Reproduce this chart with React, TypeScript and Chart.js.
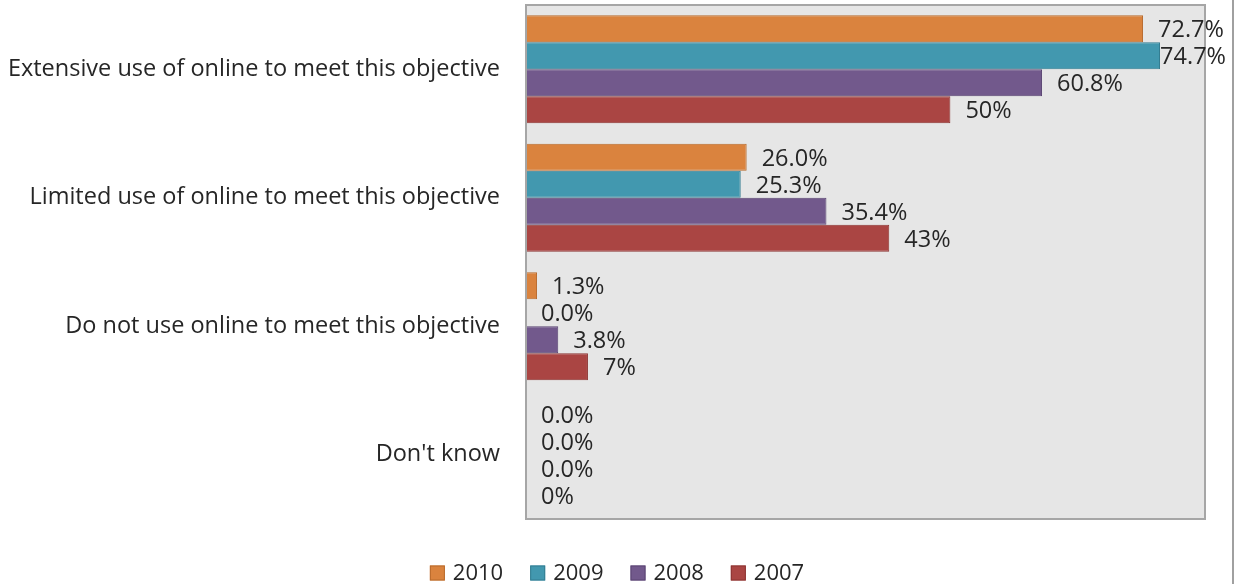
import React, { useEffect, useRef } from "react";
import { Chart, registerables } from "chart.js";

Chart.register(...registerables);

const categories = [
  "Extensive use of online to meet this objective",
  "Limited use of online to meet this objective",
  "Do not use online to meet this objective",
  "Don't know",
];
const seriesNames = ["2010", "2009", "2008", "2007"];
const values2010 = [72.7, 26.0, 1.3, 0.0];
const values2009 = [74.7, 25.3, 0.0, 0.0];
const values2008 = [60.8, 35.4, 3.8, 0.0];
const values2007 = [50, 42.8, 7.3, 0];
const labels2010 = ["72.7%", "26.0%", "1.3%", "0.0%"];
const labels2009 = ["74.7%", "25.3%", "0.0%", "0.0%"];
const labels2008 = ["60.8%", "35.4%", "3.8%", "0.0%"];
const labels2007 = ["50%", "43%", "7%", "0%"];
const fills = ["#da833e", "#4298af", "#72598c", "#aa4543"];
const borders = ["#b86a2c", "#337d91", "#5a4472", "#8c3432"];

const FONT = "'Open Sans', sans-serif";
const FS = 23.5;
const LEGEND_FS = 22;

const decorPlugin = {
  id: "decor",
  beforeDatasetsDraw(chart: any) {
    const { ctx, chartArea: a } = chart;
    ctx.save();
    ctx.fillStyle = "#e6e6e6";
    ctx.fillRect(a.left, a.top, a.right - a.left, a.bottom - a.top);
    ctx.restore();
  },
  afterDatasetsDraw(chart: any) {
    const { ctx, chartArea: a, width, height } = chart;
    ctx.save();
    ctx.strokeStyle = "#a6a6a6";
    ctx.lineWidth = 2;
    ctx.strokeRect(a.left, a.top, a.right - a.left, a.bottom - a.top);
    // outer right border line
    ctx.strokeStyle = "#a0a0a0";
    ctx.lineWidth = 2;
    ctx.beginPath();
    ctx.moveTo(width - 1, 0);
    ctx.lineTo(width - 1, height);
    ctx.stroke();

    // data labels
    ctx.font = `${FS}px ${FONT}`;
    ctx.fillStyle = "#262626";
    ctx.textBaseline = "middle";
    ctx.textAlign = "left";
    chart.data.datasets.forEach((ds: any, di: number) => {
      const meta = chart.getDatasetMeta(di);
      meta.data.forEach((bar: any, i: number) => {
        const txt = ds.valueLabels[i];
        const w = ctx.measureText(txt).width;
        let x = bar.x + 15;
        if (x + w > width - 8) x = width - 8 - w;
        ctx.fillText(txt, x, bar.y + 2);
      });
    });

    // legend
    ctx.font = `${LEGEND_FS}px ${FONT}`;
    const items = chart.data.datasets.map((ds: any) => ({
      text: ds.label,
      w: ctx.measureText(ds.label).width,
      fill: ds.backgroundColor,
      border: ds.borderColor,
    }));
    const box = 15, gapBT = 8, gapItems = 27;
    const total = items.reduce((s: number, it: any) => s + box + gapBT + it.w, 0) + gapItems * (items.length - 1);
    let x = (width - total) / 2;
    const cy = 573;
    items.forEach((it: any) => {
      ctx.fillStyle = it.fill;
      ctx.fillRect(x, cy - box / 2, box, box);
      ctx.strokeStyle = it.border;
      ctx.lineWidth = 1;
      ctx.strokeRect(x + 0.5, cy - box / 2 + 0.5, box - 1, box - 1);
      ctx.fillStyle = "#262626";
      ctx.fillText(it.text, x + box + gapBT, cy + 1);
      x += box + gapBT + it.w + gapItems;
    });
    ctx.restore();
  },
};

export default function App() {
  const ref = useRef<HTMLCanvasElement>(null);
  useEffect(() => {
    document.body.style.margin = "0";
    const all = [values2010, values2009, values2008, values2007];
    const lbls = [labels2010, labels2009, labels2008, labels2007];
    const chart = new Chart(ref.current!, {
      type: "bar",
      data: {
        labels: categories,
        datasets: seriesNames.map((n, i) => ({
          label: n,
          data: all[i],
          valueLabels: lbls[i],
          backgroundColor: fills[i],
          borderColor: borders[i],
          borderWidth: 1,
          barPercentage: 1,
          categoryPercentage: 0.84,
        })) as any,
      },
      options: {
        indexAxis: "y",
        animation: false,
        responsive: false,
        layout: { padding: { top: 5, right: 29, bottom: 65, left: 0 } },
        plugins: { legend: { display: false }, tooltip: { enabled: false } },
        scales: {
          x: { min: 0, max: 80, display: false },
          y: {
            grid: { display: false, drawTicks: false },
            border: { display: false },
            ticks: { font: { family: FONT, size: FS }, color: "#262626", padding: 26 },
            afterFit(scale: any) {
              scale.width = 526;
              scale.paddingTop = 0;
              scale.paddingBottom = 0;
            },
          },
        },
      },
      plugins: [decorPlugin],
    });
    return () => chart.destroy();
  }, []);
  return (
    <div style={{ width: 1234, height: 584 }}>
      <canvas ref={ref} width={1234} height={584} style={{ display: "block" }} />
    </div>
  );
}
